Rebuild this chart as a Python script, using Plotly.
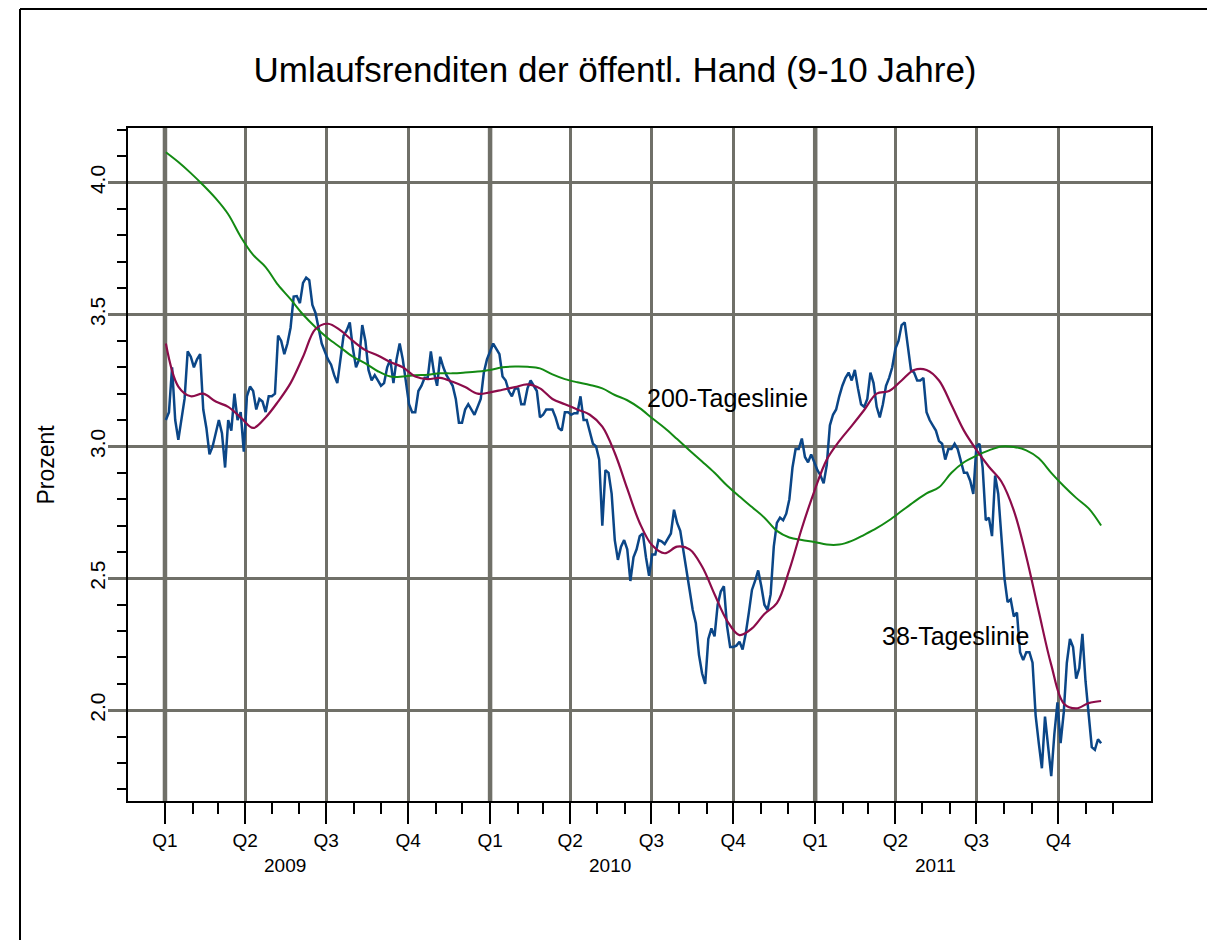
import pandas as pd
import plotly.graph_objects as go

# ---------------- data ----------------
series_start = "2009-01-02"

# half-weekly readings of the yield (blue line), percent
yield_values = [
    3.10, 3.13, 3.30, 3.10, 3.025, 3.10, 3.18, 3.36, 3.34, 3.30,
    3.33, 3.35, 3.14, 3.07, 2.97, 3.00, 3.045, 3.10, 3.05, 2.92,
    3.10, 3.06, 3.20, 3.10, 3.13, 2.98, 3.19, 3.227, 3.21, 3.14,
    3.18, 3.17, 3.13, 3.19, 3.19, 3.20, 3.42, 3.40, 3.35, 3.39,
    3.45, 3.568, 3.57, 3.543, 3.62, 3.64, 3.63, 3.536, 3.506, 3.44,
    3.39, 3.36, 3.33, 3.31, 3.27, 3.24, 3.34, 3.42, 3.44, 3.47,
    3.37, 3.30, 3.33, 3.46, 3.40, 3.29, 3.25, 3.27, 3.25, 3.23,
    3.24, 3.30, 3.33, 3.24, 3.33, 3.39, 3.33, 3.24, 3.16, 3.13,
    3.13, 3.21, 3.23, 3.26, 3.26, 3.36, 3.28, 3.23, 3.34, 3.30,
    3.27, 3.25, 3.23, 3.18, 3.09, 3.09, 3.14, 3.16, 3.14, 3.12,
    3.15, 3.18, 3.28, 3.33, 3.36, 3.39, 3.37, 3.35, 3.265, 3.25,
    3.21, 3.19, 3.22, 3.22, 3.16, 3.16, 3.22, 3.25, 3.23, 3.21,
    3.11, 3.12, 3.14, 3.14, 3.14, 3.11, 3.07, 3.06, 3.13, 3.13,
    3.12, 3.126, 3.126, 3.19, 3.10, 3.10, 3.06, 3.01, 3.00, 2.95,
    2.70, 2.91, 2.90, 2.82, 2.645, 2.57, 2.62, 2.645, 2.61, 2.49,
    2.58, 2.61, 2.66, 2.67, 2.58, 2.51, 2.59, 2.59, 2.645, 2.64,
    2.63, 2.65, 2.67, 2.76, 2.71, 2.68, 2.60, 2.53, 2.456, 2.38,
    2.33, 2.21, 2.14, 2.10, 2.27, 2.31, 2.28, 2.40, 2.45, 2.47,
    2.32, 2.24, 2.24, 2.245, 2.26, 2.23, 2.29, 2.37, 2.456, 2.49,
    2.53, 2.47, 2.40, 2.38, 2.44, 2.62, 2.71, 2.73, 2.72, 2.745,
    2.80, 2.92, 2.99, 2.99, 3.03, 2.96, 2.94, 2.97, 2.94, 2.91,
    2.89, 2.86, 2.93, 3.08, 3.12, 3.14, 3.19, 3.23, 3.26, 3.28,
    3.25, 3.29, 3.22, 3.16, 3.15, 3.18, 3.28, 3.24, 3.15, 3.11,
    3.16, 3.23, 3.26, 3.30, 3.37, 3.40, 3.46, 3.47, 3.38, 3.29,
    3.28, 3.25, 3.25, 3.26, 3.13, 3.10, 3.08, 3.06, 3.02, 3.01,
    2.95, 2.99, 2.99, 3.01, 2.99, 2.94, 2.90, 2.90, 2.87, 2.82,
    3.00, 3.01, 2.92, 2.72, 2.73, 2.66, 2.89, 2.82, 2.66, 2.50,
    2.41, 2.42, 2.355, 2.37, 2.22, 2.19, 2.22, 2.22, 2.18, 1.98,
    1.875, 1.78, 1.976, 1.875, 1.75, 1.91, 2.03, 1.875, 1.99, 2.18,
    2.27, 2.24, 2.12, 2.16, 2.29, 2.11, 1.99, 1.86, 1.85, 1.89,
    1.875,
]

# fortnightly readings of the 38-day line (maroon)
ma38_values = [
    3.39, 3.227, 3.19, 3.20, 3.17, 3.15, 3.11, 3.07, 3.11, 3.17,
    3.24, 3.34, 3.445, 3.465, 3.44, 3.40, 3.365, 3.345, 3.32, 3.30,
    3.265, 3.255, 3.26, 3.245, 3.225, 3.20, 3.205, 3.215, 3.225, 3.235,
    3.22, 3.18, 3.16, 3.14, 3.12, 3.075, 2.975, 2.84, 2.71, 2.625,
    2.595, 2.62, 2.61, 2.545, 2.44, 2.34, 2.285, 2.31, 2.365, 2.406,
    2.532, 2.69, 2.83, 2.95, 3.02, 3.078, 3.138, 3.20, 3.21, 3.25,
    3.29, 3.29, 3.25, 3.157, 3.06, 2.987, 2.923, 2.867, 2.757, 2.582,
    2.374, 2.172, 2.026, 2.007, 2.027, 2.035,
]

# fortnightly readings of the 200-day line (green)
ma200_values = [
    4.115, 4.078, 4.036, 3.99, 3.94, 3.88, 3.795, 3.726, 3.68, 3.612,
    3.558, 3.50, 3.452, 3.41, 3.375, 3.34, 3.315, 3.285, 3.265, 3.265,
    3.27, 3.272, 3.277, 3.277, 3.28, 3.284, 3.29, 3.30, 3.303, 3.302,
    3.296, 3.273, 3.255, 3.243, 3.233, 3.22, 3.195, 3.175, 3.145, 3.107,
    3.07, 3.028, 2.985, 2.943, 2.90, 2.852, 2.81, 2.77, 2.73, 2.68,
    2.655, 2.645, 2.638, 2.628, 2.628, 2.642, 2.665, 2.69, 2.72, 2.755,
    2.79, 2.822, 2.845, 2.90, 2.94, 2.965, 2.985, 3.0, 2.998, 2.985,
    2.955, 2.90, 2.85, 2.805, 2.765, 2.70,
]

quarter_labels = ["Q1", "Q2", "Q3", "Q4"] * 3
years = ["2009", "2010", "2011"]
y_tick_values = [2.0, 2.5, 3.0, 3.5, 4.0]
y_tick_labels = ["2.0", "2.5", "3.0", "3.5", "4.0"]

title_text = "Umlaufsrenditen der öffentl. Hand (9-10 Jahre)"
y_title = "Prozent"
label_200 = "200-Tageslinie"
label_38 = "38-Tageslinie"

# ---------------- derived x values ----------------
dates = pd.date_range(series_start, periods=len(yield_values), freq="84h")
ma_dates = pd.date_range(series_start, periods=len(ma38_values), freq="14D")
quarter_dates = pd.date_range("2009-01-01", periods=len(quarter_labels), freq="QS")
month_dates = pd.date_range("2009-01-01", "2011-12-01", freq="MS")
year_starts = [pd.Timestamp(f"{y}-01-01") for y in years]
year_label_pos = [pd.Timestamp(f"{y}-05-16") for y in years]

GRID = "#707068"
FONT = "Liberation Sans, Arial, sans-serif"

fig = go.Figure()
fig.add_trace(go.Scatter(x=dates, y=yield_values, mode="lines",
                         line=dict(color="#0b4687", width=2.5), hoverinfo="skip"))
fig.add_trace(go.Scatter(x=ma_dates, y=ma200_values, mode="lines",
                         line=dict(color="#138a13", width=2, shape="spline"), hoverinfo="skip"))
fig.add_trace(go.Scatter(x=ma_dates, y=ma38_values, mode="lines",
                         line=dict(color="#8c0c4a", width=2.2, shape="spline"), hoverinfo="skip"))

# page is offset by the 8px body margin, so figure pixel = page pixel - 8
OFF = 8
W, H = 1215, 940
L = 128 - OFF
T = 128 - OFF
R = W - (1151 - OFF)
B = H - (801 - OFF)
pw, ph = W - L - R, H - T - B


def px_to_paper_x(page_x):
    return (page_x - OFF - L) / pw


def py_to_paper_y(page_y):
    return (H - B - (page_y - OFF)) / ph


fig.update_layout(
    width=W, height=H,
    margin=dict(l=L, r=R, t=T, b=B),
    paper_bgcolor="white", plot_bgcolor="white",
    showlegend=False,
    font=dict(family=FONT, color="black"),
    title=dict(text=title_text, xref="paper", x=px_to_paper_x(615), xanchor="center",
               yref="container", y=1 - (70 - OFF) / H, yanchor="middle",
               font=dict(size=35, family=FONT, color="black")),
)

fig.update_xaxes(
    type="date", range=["2008-11-20 12:00", "2012-01-13"],
    tickmode="array", tickvals=quarter_dates, ticktext=quarter_labels,
    ticks="outside", ticklen=21, tickwidth=1.5, tickcolor="black",
    ticklabelstandoff=0, tickfont=dict(size=19),
    showgrid=True, gridcolor=GRID, gridwidth=3,
    showline=True, linecolor="black", linewidth=2, mirror=True,
    zeroline=False,
    minor=dict(tickmode="array", tickvals=month_dates, ticks="outside",
               ticklen=11, tickwidth=1.5, tickcolor="black", showgrid=False),
)
fig.update_yaxes(
    range=[1.656, 4.207],
    tickmode="array", tickvals=y_tick_values, ticktext=y_tick_labels,
    tickangle=-90, tickfont=dict(size=21), ticklabelstandoff=-5,
    ticks="outside", ticklen=18, tickwidth=3, tickcolor=GRID,
    showgrid=True, gridcolor=GRID, gridwidth=3,
    showline=True, linecolor="black", linewidth=2, mirror=True,
    zeroline=False,
    minor=dict(dtick=0.1, tick0=0, ticks="outside", ticklen=9,
               tickwidth=1.5, tickcolor="black", showgrid=False),
)

# thicker year boundary grid lines
for ys in year_starts:
    fig.add_shape(type="line", xref="x", yref="paper", x0=ys, x1=ys, y0=0, y1=1,
                  line=dict(color=GRID, width=4.5), layer="below")

# outer frame (left and top edges)
fx = px_to_paper_x(20)
fy = py_to_paper_y(9)
fig.add_shape(type="line", xref="paper", yref="paper", x0=fx, x1=fx, y0=-0.3, y1=fy,
              line=dict(color="black", width=2))
fig.add_shape(type="line", xref="paper", yref="paper", x0=fx, x1=1.2, y0=fy, y1=fy,
              line=dict(color="black", width=2))

# year labels under the quarter labels
for pos, y in zip(year_label_pos, years):
    fig.add_annotation(x=pos, y=py_to_paper_y(865), xref="x", yref="paper",
                       text=y, showarrow=False, font=dict(size=19),
                       xanchor="center", yanchor="middle")

# y axis title
fig.add_annotation(x=px_to_paper_x(45), y=0.5, xref="paper", yref="paper",
                   text=y_title, textangle=-90, showarrow=False,
                   font=dict(size=23), xanchor="center", yanchor="middle")

# line labels
fig.add_annotation(x=pd.Timestamp("2010-09-24"), y=3.184, text=label_200,
                   showarrow=False, font=dict(size=25), xanchor="center", yanchor="middle")
fig.add_annotation(x=pd.Timestamp("2011-06-08"), y=2.282, text=label_38,
                   showarrow=False, font=dict(size=25), xanchor="center", yanchor="middle")

fig.write_html("out.html")
